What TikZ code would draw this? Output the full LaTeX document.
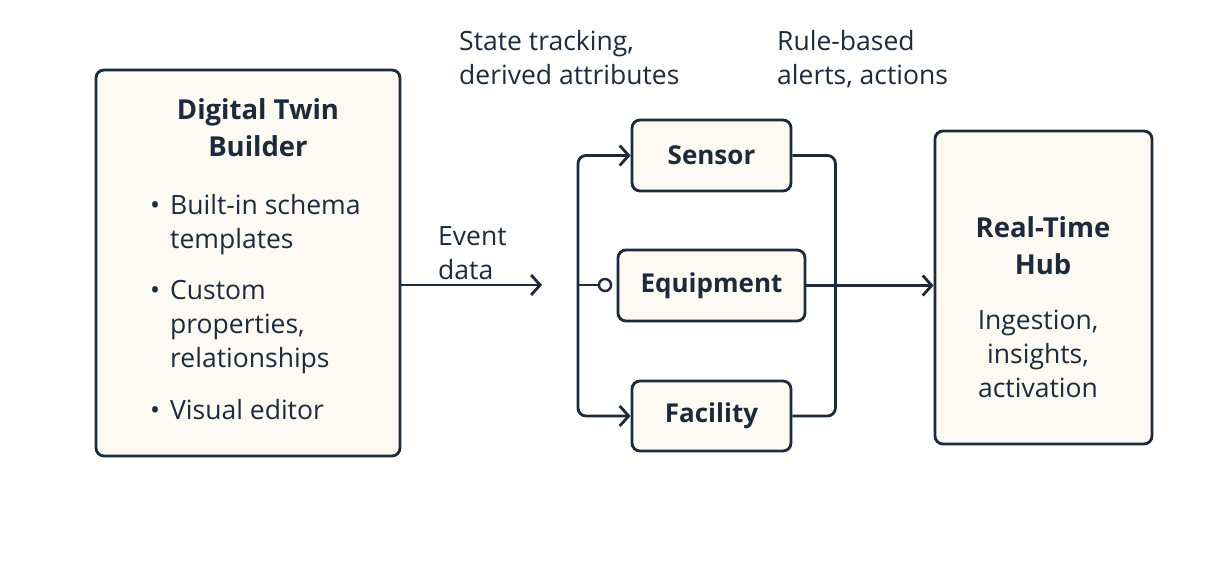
\documentclass[tikz,border=0pt]{standalone}
\usepackage{fontspec}
\setmainfont{Open Sans}
\usepackage{tikz}
\usetikzlibrary{positioning, arrows.meta, calc}
\definecolor{inkNavy}{HTML}{1C2A3B}
\definecolor{paperCream}{HTML}{FCFAF3}
\newcommand{\itemdot}{\makebox[20pt][l]{\textbullet}}
\newcommand{\itemgap}{\hspace*{20pt}}
\newcommand{\tagtext}[1]{\raisebox{-3pt}{#1}}

\begin{document}
\begin{tikzpicture}[x=1pt, y=-1pt,
    box/.style={draw=inkNavy, fill=paperCream, line width=2.8pt, rounded corners=8pt},
    txt/.style={text=inkNavy, font=\fontsize{26.5}{34}\selectfont, inner sep=0pt},
    ttl/.style={text=inkNavy, font=\fontsize{27.5}{37}\selectfont\bfseries, inner sep=0pt, align=center},
    tag/.style={text=inkNavy, font=\fontsize{26}{34}\selectfont\bfseries},
    link/.style={draw=inkNavy, line width=2.8pt},
    tip/.style={-{Straight Barb[length=9pt, width=20pt, line width=2.8pt]}}]
    \useasboundingbox (0,0) rectangle (1207,560);
    % left: builder
    \node[box, minimum width=304pt, minimum height=386pt] (dtb) at (248,263) {};
    \node[ttl] (dtbTitle) at (258,128) {Digital Twin\\Builder};
    \node[txt, anchor=west, align=left] (dtbA) at (150,225) {\itemdot Built-in schema\\\itemgap templates};
    \node[txt, anchor=west, align=left] (dtbB) at (150,327) {\itemdot Custom\\\itemgap properties,\\\itemgap relationships};
    \node[txt, anchor=west, align=left] (dtbC) at (150,410) {\itemdot Visual editor};
    % middle: twin types
    \node[box, minimum width=159pt, minimum height=71pt, tag] (sen) at (711.5,155.5) {\tagtext{Sensor}};
    \node[box, minimum width=187pt, minimum height=71pt, tag] (equ) at (711.5,285.5) {\tagtext{Equipment}};
    \node[box, minimum width=159pt, minimum height=70pt, tag] (fac) at (711.5,416) {\tagtext{Facility}};
    % right: hub
    \node[box, minimum width=217pt, minimum height=313pt] (rth) at (1043.5,287.5) {};
    \node[ttl] (rthTitle) at (1043,246) {Real-Time\\Hub};
    \node[txt, align=center] (rthText) at (1038,354) {Ingestion,\\insights,\\activation};
    % labels
    \node[txt, anchor=west, align=left] (lblEvt) at (438,253) {Event\\data};
    \node[txt, anchor=west, align=left] (lblState) at (459,58) {State tracking,\\derived attributes};
    \node[txt, anchor=west, align=left] (lblRule) at (777,59) {Rule-based\\alerts, actions};
    % connectors
    \coordinate (evt) at (542,285);
    \coordinate (split) at (578,285);
    \node[circle, draw=inkNavy, fill=white, line width=2.4pt, minimum size=12pt, inner sep=0pt] (ring) at (605,285) {};
    \draw[link, tip] (dtb.east |- evt) -- (evt);
    \draw[link] (split) -- (ring);
    \draw[link, tip, rounded corners=8pt] (split) |- (sen.west);
    \draw[link, tip, rounded corners=8pt] (split) |- (fac.west);
    \draw[link, rounded corners=8pt] (sen.east) -- ++(43,0) |- (fac.east);
    \draw[link, tip] (equ.east) -- (equ.east -| rth.west);
\end{tikzpicture}
\end{document}
